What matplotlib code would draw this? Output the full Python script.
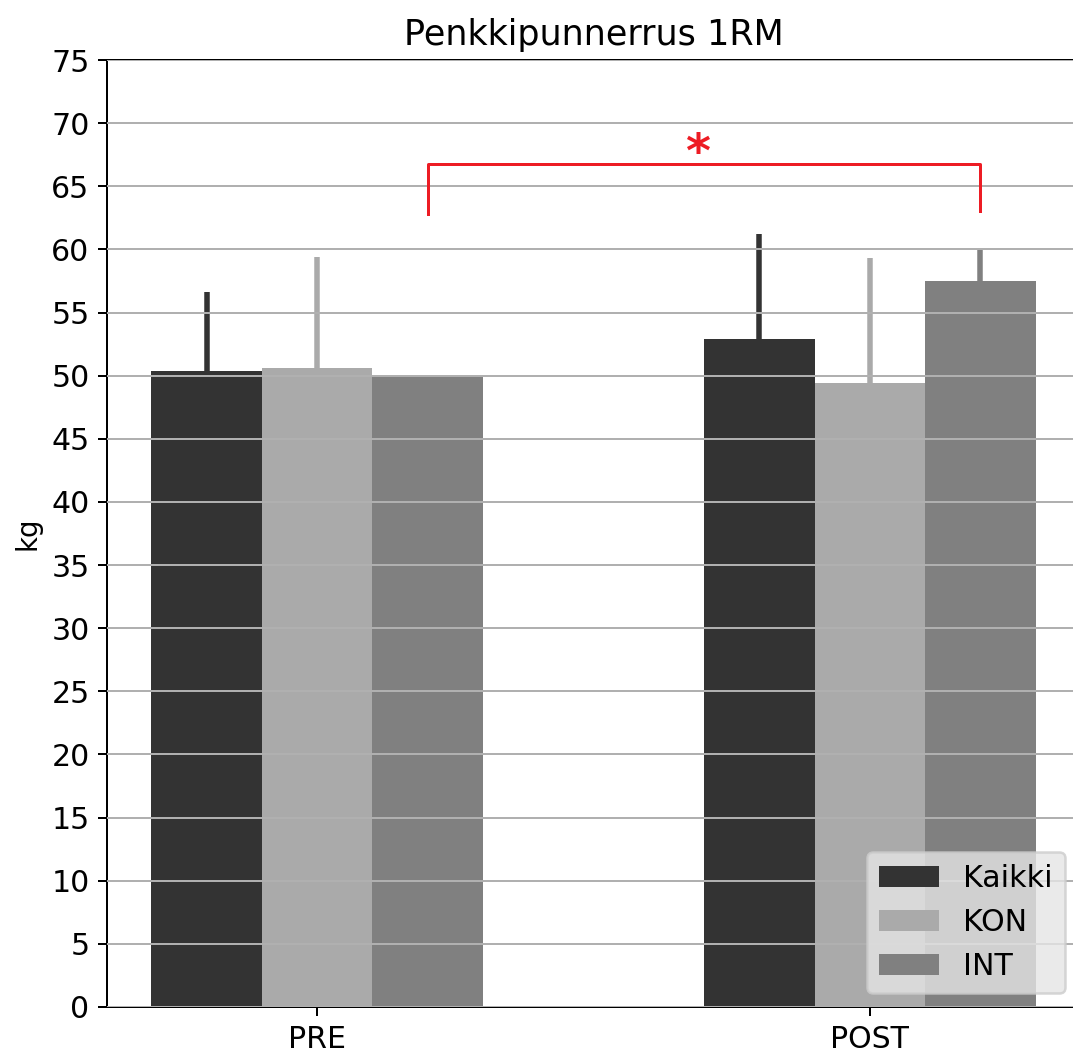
import matplotlib
matplotlib.use("Agg")
import matplotlib.pyplot as plt
import numpy as np

# data
groups = ['PRE', 'POST']
series = ['Kaikki', 'KON', 'INT']
colors = ['#333333', '#aaaaaa', '#808080']
kaikki = [50.4, 52.9]
kon = [50.6, 49.4]
int_ = [50.0, 57.5]
kaikki_err = [6.2, 8.35]
kon_err = [8.8, 9.95]
int_err = [0.0, 2.45]

means = [kaikki, kon, int_]
errs = [kaikki_err, kon_err, int_err]

# significance bracket: INT PRE vs INT POST
sig_y = [62.8, 66.8, 66.8, 63.05]

fig = plt.figure(figsize=(1073 / 180, 1054 / 180), dpi=180)
ax = fig.add_axes([107 / 1073, 47 / 1054, 973 / 1073, 947 / 1054])

x = np.arange(len(groups))
w = 0.2
for i, (name, m, e, c) in enumerate(zip(series, means, errs, colors)):
    pos = x + (i - 1) * w
    ax.errorbar(pos, m, yerr=[np.zeros(len(e)), e], fmt='none', ecolor=c,
                elinewidth=2.2, capsize=0, zorder=1)
    ax.bar(pos, m, w, color=c, label=name, zorder=2)

# bracket
bx = [x[0] + w, x[0] + w, x[1] + w, x[1] + w]
ax.plot(bx, sig_y, color='#ED1C24', lw=1.2, zorder=4, clip_on=False)
ax.text((bx[0] + bx[-1]) / 2 - 0.012, 65.7, '*', color='#ED1C24', fontsize=19,
        fontweight='bold', ha='center', va='bottom', zorder=4)

ax.set_xlim(-0.38, 1.38)
ax.set_ylim(0, 75)
ax.set_yticks(np.arange(0, 76, 5))
ax.set_xticks(x)
ax.set_xticklabels(groups)
ax.tick_params(labelsize=12)
ax.yaxis.grid(True, color='#b0b0b0', lw=0.8, zorder=3)
ax.set_axisbelow(False)
ax.set_ylabel('kg', fontsize=11)
ax.set_title('Penkkipunnerrus 1RM', fontsize=14)

leg = ax.legend(loc='lower right', bbox_to_anchor=(1065 / 1073, 61 / 1054),
                bbox_transform=fig.transFigure, borderaxespad=0, fontsize=12,
                facecolor='#e5e5e5', framealpha=0.8, edgecolor='#cccccc')
leg.set_zorder(5)

fig.savefig('out.png', dpi=180)
